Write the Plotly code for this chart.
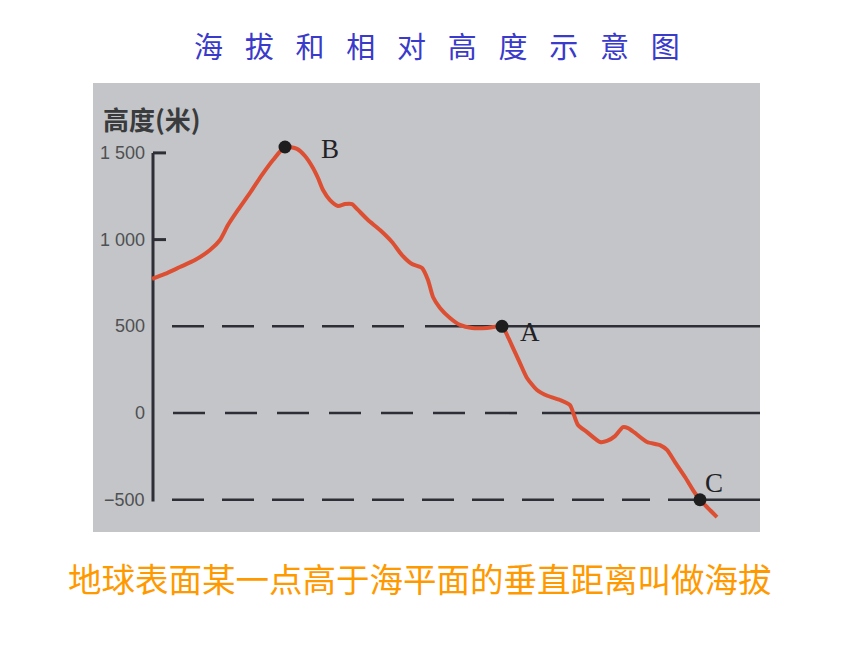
import plotly.graph_objects as go

# ---- data (distance in arbitrary units, elevation in metres) ----
distance = [-1, 12, 27, 42, 57, 67, 75, 85, 97, 109, 120, 132, 144, 152, 160, 165, 170, 177,
            185, 192, 199, 205, 215, 227, 239, 249, 259, 269, 275, 280, 287, 297, 307, 319,
            334, 349, 355, 361, 367, 374, 384, 395, 407, 417, 421, 425, 434, 447, 454, 462,
            470, 475, 482, 494, 507, 514, 522, 532, 540, 547, 555, 564]
elevation = [773, 802, 842, 882, 940, 998, 1084, 1171, 1269, 1373, 1459, 1534, 1523, 1482,
             1413, 1355, 1286, 1228, 1194, 1205, 1205, 1171, 1113, 1055, 986, 911, 859, 836,
             767, 669, 606, 548, 508, 490, 490, 500, 438, 363, 288, 202, 133, 98, 75, 46,
             -12, -69, -110, -167, -161, -133, -81, -87, -115, -167, -185, -213, -283, -369,
             -444, -500, -548, -600]

point_names = ["B", "A", "C"]
point_x = [132, 349, 547]
point_y = [1534, 500, -500]

ref_levels = [500, 0, -500]
dash_start = [19, 20, 19]
dash_end = [252, 369, 497]
solid_start = [272, 389, 515]
dash_patterns = ["32px,18px", "32px,20px", "32px,18px"]

tick_values = [1500, 1000, 500, 0, -500]
tick_labels = ["1 500", "1 000", "500", "0", "\u2212500"]
major_ticks = [1500, 1000]

X_RANGE = [-60, 607]
Y_RANGE = [-686, 1903]

title_text = "\u2002\u2005".join(list("海拔和相对高度示意图"))
caption_text = "地球表面某一点高于海平面的垂直距离叫做海拔"
axis_title = "高度(米)"

LINE_COL = "#2e2f36"
OFF = 8  # page body margin in px

fig = go.Figure()

# reference lines (dashed part + solid part)
for lvl, ds, de, ss, dp in zip(ref_levels, dash_start, dash_end, solid_start, dash_patterns):
    fig.add_trace(go.Scatter(x=[ds, de], y=[lvl, lvl], mode="lines",
                             line=dict(color=LINE_COL, width=2.6, dash=dp),
                             hoverinfo="skip", showlegend=False))
    fig.add_trace(go.Scatter(x=[ss, X_RANGE[1]], y=[lvl, lvl], mode="lines",
                             line=dict(color=LINE_COL, width=2.6),
                             hoverinfo="skip", showlegend=False))

# vertical axis line and ticks
fig.add_trace(go.Scatter(x=[0, 0], y=[min(tick_values) - 10, max(tick_values)], mode="lines",
                         line=dict(color=LINE_COL, width=3), hoverinfo="skip", showlegend=False))
for t in major_ticks:
    fig.add_trace(go.Scatter(x=[0, 13], y=[t, t], mode="lines",
                             line=dict(color=LINE_COL, width=3), hoverinfo="skip", showlegend=False))

# terrain profile
fig.add_trace(go.Scatter(x=distance, y=elevation, mode="lines",
                         line=dict(color="#dd4f33", width=4, shape="spline", smoothing=0.6),
                         hoverinfo="skip", showlegend=False))

# points
fig.add_trace(go.Scatter(x=point_x, y=point_y, mode="markers",
                         marker=dict(color="#1e1e1e", size=13),
                         hoverinfo="skip", showlegend=False))

annotations = []
# tick labels
for v, lab in zip(tick_values, tick_labels):
    annotations.append(dict(x=-6, y=v, xref="x", yref="y", text=lab, showarrow=False,
                            xanchor="right", yanchor="middle",
                            font=dict(family="Liberation Sans", size=18, color="#4f5052")))
# axis title
annotations.append(dict(x=-52, y=1700, xref="x", yref="y", text="<b>" + axis_title + "</b>",
                        showarrow=False, xanchor="left", yanchor="middle",
                        font=dict(family="Noto Sans CJK SC", size=26, color="#3a3b3d")))
# point labels
label_pos = [(177, 1522), (377, 467), (561, -404)]
for name, (lx, ly) in zip(point_names, label_pos):
    annotations.append(dict(x=lx, y=ly, xref="x", yref="y", text=name, showarrow=False,
                            xanchor="center", yanchor="middle",
                            font=dict(family="Liberation Serif", size=27, color="#222226")))
# title & caption
annotations.append(dict(x=(437 - OFF) / 860, y=(645 - 45 + OFF) / 645, xref="paper", yref="paper",
                        text=title_text, showarrow=False, xanchor="center", yanchor="middle",
                        font=dict(family="Noto Sans CJK SC", size=29, color="#3a3acb")))
annotations.append(dict(x=(420 - OFF) / 860, y=(645 - 577 + OFF) / 645, xref="paper", yref="paper",
                        text=caption_text, showarrow=False, xanchor="center", yanchor="middle",
                        font=dict(family="Noto Sans CJK SC", size=33.5, color="#ff9900")))

fig.update_layout(
    width=860, height=645,
    margin=dict(l=0, r=0, t=0, b=0),
    paper_bgcolor="white",
    plot_bgcolor="#c3c5c8",
    font=dict(family="Noto Sans CJK SC"),
    xaxis=dict(range=X_RANGE, domain=[(93 - OFF) / 860, (760 - OFF) / 860], visible=False,
               fixedrange=True),
    yaxis=dict(range=Y_RANGE, domain=[(645 - 532 + OFF) / 645, (645 - 83 + OFF) / 645],
               visible=False, fixedrange=True),
    annotations=annotations,
    showlegend=False,
)

fig.write_html("out.html")
